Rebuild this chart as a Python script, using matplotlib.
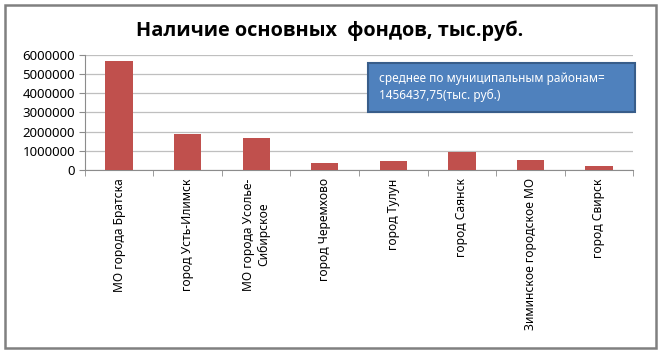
import numpy as np
import matplotlib.pyplot as plt
from matplotlib.patches import Rectangle

plt.rcParams['font.family'] = ['Noto Sans', 'DejaVu Sans']

# data
districts = ['МО города Братска', 'город Усть-Илимск', 'МО города Усолье-\nСибирское',
             'город Черемхово', 'город Тулун', 'город Саянск',
             'Зиминское городское МО', 'город Свирск']
funds = [5700000, 1850000, 1640000, 370000, 470000, 940000, 500000, 180000]
yticks = [0, 1000000, 2000000, 3000000, 4000000, 5000000, 6000000]
title = 'Наличие основных  фондов, тыс.руб.'
note = 'среднее по муниципальным районам=\n1456437,75(тыс. руб.)'

fig = plt.figure(figsize=(6.63, 3.54), dpi=100)
ax = fig.add_axes([0.128, 0.52, 0.827, 0.325])

x = np.arange(len(districts))
ax.bar(x, funds, width=0.4, color='#C0504D', zorder=3)

ax.set_xlim(-0.5, len(districts) - 0.5)
ax.set_ylim(0, 6000000)
ax.set_yticks(yticks)
ax.set_yticklabels([str(v) for v in yticks], fontsize=9.5)
ax.yaxis.grid(True, color='#BFBFBF', lw=0.9, zorder=0)

ax.set_xticks(x)
ax.set_xticklabels(districts, rotation=90, fontsize=8.7, va='top', ha='center',
                   multialignment='center')
ax.set_xticks(np.arange(-0.5, len(districts)), minor=True)
ax.tick_params(axis='x', which='major', length=0, pad=6)
ax.tick_params(axis='x', which='minor', length=4, color='#8C8C8C', direction='out')
ax.tick_params(axis='y', length=4, color='#8C8C8C', pad=3)

for side in ['top', 'right']:
    ax.spines[side].set_visible(False)
ax.spines['left'].set_color('#8C8C8C')
ax.spines['bottom'].set_color('#8C8C8C')

fig.text(0.497, 0.912, title, ha='center', va='center', fontsize=14.3,
         fontweight='bold', family=['Open Sans', 'DejaVu Sans'])

# annotation box with the average
box = Rectangle((0.555, 0.683), 0.403, 0.139, transform=fig.transFigure,
                facecolor='#4F81BD', edgecolor='#385D8A', lw=1.5)
fig.add_artist(box)
fig.text(0.572, 0.755, note, ha='left', va='center', fontsize=8.5, color='white',
         linespacing=1.4)

# outer frame
frame = Rectangle((0.007, 0.017), 0.983, 0.97, transform=fig.transFigure,
                  facecolor='none', edgecolor='#808080', lw=1.8)
fig.add_artist(frame)

fig.savefig('out.png', dpi=100)
